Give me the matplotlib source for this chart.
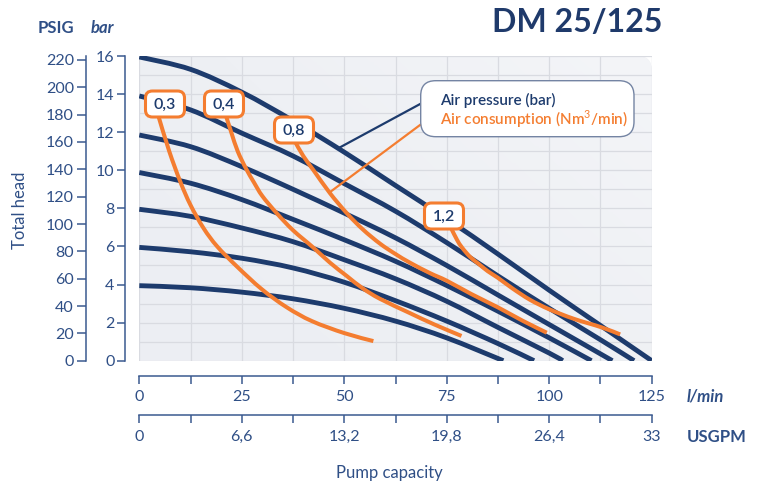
import numpy as np
import matplotlib.pyplot as plt
from matplotlib.patches import PathPatch, FancyBboxPatch
from matplotlib.path import Path
from matplotlib.colors import LinearSegmentedColormap

plt.rcParams['font.family'] = ['Lato', 'DejaVu Sans']
plt.rcParams['mathtext.fontset'] = 'custom'
plt.rcParams['mathtext.rm'] = 'Lato'

NAVY = '#1d3b6d'
ORANGE = '#f47d30'
TXT = '#2f4f86'
AXC = '#3b5a8f'

# axis ticks
flow_ticks = [0, 25, 50, 75, 100, 125]
flow_minor = [12.5, 37.5, 62.5, 87.5, 112.5]
usgpm_ticks = [0, 6.6, 13.2, 19.8, 26.4, 33]
usgpm_minor = [3.3, 9.9, 16.5, 23.1, 29.7]
usgpm_labels = ['0', '6,6', '13,2', '19,8', '26,4', '33']
bar_ticks = [0, 2, 4, 6, 8, 10, 12, 14, 16]
psig_ticks = [0, 20, 40, 60, 80, 100, 120, 140, 160, 180, 200, 220]

# air pressure curves: flow (l/min) -> total head (bar)
p4_x = [0, 12.5, 25, 37.5, 50, 62.5, 75, 88.8]
p4_y = [3.94, 3.83, 3.6, 3.25, 2.75, 2.08, 1.2, 0]
p6_x = [0, 12.5, 25, 37.5, 50, 62.5, 75, 87.5, 96.3]
p6_y = [5.95, 5.72, 5.38, 4.87, 4.12, 3.15, 2.08, 0.9, 0]
p8_x = [0, 12.5, 25, 37.5, 50, 62.5, 75, 87.5, 100, 103.3]
p8_y = [7.95, 7.58, 6.97, 6.25, 5.3, 4.3, 3.12, 1.75, 0.4, 0]
p10_x = [0, 12.5, 25, 37.5, 50, 62.5, 75, 87.5, 100, 110.3]
p10_y = [9.88, 9.32, 8.46, 7.42, 6.35, 5.22, 3.95, 2.6, 1.2, 0]
p12_x = [0, 12.5, 25, 37.5, 50, 62.5, 75, 87.5, 100, 115.4]
p12_y = [11.85, 11.24, 10.19, 9.0, 7.75, 6.45, 5.0, 3.45, 1.9, 0]
p14_x = [0, 12.5, 25, 37.5, 50, 62.5, 75, 87.5, 100, 112.5, 120.7]
p14_y = [13.9, 13.17, 11.95, 10.75, 9.3, 7.85, 6.2, 4.45, 2.75, 1.1, 0]
p16_x = [0, 12.5, 25, 37.5, 50, 62.5, 75, 87.5, 100, 112.5, 125]
p16_y = [15.95, 15.3, 14.1, 12.6, 10.95, 9.2, 7.45, 5.6, 3.7, 1.85, 0]

# air consumption curves (Nm3/min)
c03_x = [4.7, 7.3, 10, 12.5, 15.7, 19, 23.8, 29.9, 36, 42.1, 50, 57.1]
c03_y = [12.82, 11.0, 9.4, 8.17, 6.95, 6.0, 4.95, 3.75, 2.8, 2.08, 1.45, 1.03]
c04_x = [21.2, 22.5, 24, 26, 28, 30, 33.5, 37.5, 42.4, 46.5, 50.6, 54.5, 58.7, 66, 72, 78.6]
c04_y = [12.82, 11.95, 11.0, 10.1, 9.35, 8.65, 7.75, 6.85, 5.95, 5.15, 4.45, 3.8, 3.25, 2.5, 1.9, 1.3]
c08_x = [38, 40, 42.5, 46.5, 50.6, 54.5, 58.7, 62.5, 66, 70.9, 75, 81, 87.5, 93.5, 99.4]
c08_y = [11.5, 10.75, 10.0, 8.8, 7.75, 6.9, 6.15, 5.6, 5.15, 4.6, 4.2, 3.5, 2.8, 2.1, 1.47]
c12_x = [76.2, 77.5, 78.7, 80.7, 82.7, 85, 87.5, 91, 95.3, 100, 106, 112.8, 117.3]
c12_y = [6.9, 6.35, 5.95, 5.45, 5.1, 4.7, 4.35, 3.8, 3.2, 2.7, 2.2, 1.75, 1.38]
cons_labels = ['0,3', '0,4', '0,8', '1,2']


def smooth_path(xs, ys):
    # bezier path through the read points (catmull-rom tangents)
    p = np.column_stack([xs, ys]).astype(float)
    n = len(p)
    verts = [p[0]]
    codes = [Path.MOVETO]
    for i in range(n - 1):
        a = p[i - 1] if i > 0 else p[i]
        d = p[i + 2] if i + 2 < n else p[i + 1]
        verts += [p[i] + (p[i + 1] - a) / 6, p[i + 1] - (d - p[i]) / 6, p[i + 1]]
        codes += [Path.CURVE4] * 3
    return Path(verts, codes)


W_PX, H_PX = 758, 488
fig = plt.figure(figsize=(W_PX / 100, H_PX / 100), dpi=100)

x0, x1, ytop, ybot = 139.3, 651.7, 56, 360.7
pos = [x0 / W_PX, 1 - ybot / H_PX, (x1 - x0) / W_PX, (ybot - ytop) / H_PX]

# PSIG axis (secondary left)
axp = fig.add_axes(pos, zorder=1)
axp.set_facecolor('none')
axp.set_ylim(0, 222.9)
axp.set_xticks([])
for s in ['top', 'right', 'bottom']:
    axp.spines[s].set_visible(False)
axp.spines['left'].set_position(('outward', 38.4))
axp.spines['left'].set_color(AXC)
axp.spines['left'].set_linewidth(1.1)
axp.set_yticks(psig_ticks)
axp.set_yticklabels([str(v) for v in psig_ticks])
axp.tick_params(axis='y', direction='out', length=6.2, width=1.1, color=AXC,
                labelcolor=TXT, labelsize=11.5, pad=2.4)

# USGPM axis (secondary bottom)
axu = fig.add_axes(pos, zorder=1)
axu.set_facecolor('none')
axu.set_xlim(0, 33)
axu.set_yticks([])
for s in ['top', 'right', 'left']:
    axu.spines[s].set_visible(False)
axu.spines['bottom'].set_position(('outward', 39.1))
axu.spines['bottom'].set_color(AXC)
axu.spines['bottom'].set_linewidth(1.1)
axu.set_xticks(usgpm_ticks)
axu.set_xticklabels(usgpm_labels)
axu.set_xticks(usgpm_minor, minor=True)
axu.tick_params(axis='x', which='both', direction='out', length=5.6, width=1.1,
                color=AXC, labelcolor=TXT, labelsize=11.5, pad=5.0)

# main axes
ax = fig.add_axes(pos, zorder=3)
ax.set_facecolor('none')
ax.set_xlim(0, 125)
ax.set_ylim(0, 16)
for s in ['top', 'right']:
    ax.spines[s].set_visible(False)
ax.spines['left'].set_position(('outward', 10.3))
ax.spines['bottom'].set_position(('outward', 11.0))
for s in ['left', 'bottom']:
    ax.spines[s].set_color(AXC)
    ax.spines[s].set_linewidth(1.1)
ax.set_xticks(flow_ticks)
ax.set_xticklabels([str(v) for v in flow_ticks])
ax.set_xticks(flow_minor, minor=True)
ax.set_yticks(bar_ticks)
ax.set_yticklabels([str(v) for v in bar_ticks])
ax.set_yticks([1, 3, 5, 7, 9, 11, 13, 15], minor=True)
ax.tick_params(axis='x', which='both', direction='out', length=5.6, width=1.1,
               color=AXC, labelcolor=TXT, labelsize=11.5, pad=4.8)
ax.tick_params(axis='y', which='major', direction='out', length=5.8, width=1.1,
               color=AXC, labelcolor=TXT, labelsize=11.5, pad=1.7)
ax.tick_params(axis='y', which='minor', length=0)

# plot background with rounded top-right corner and soft gradient
rx, ry = 14 / (x1 - x0), 14 / (ybot - ytop)
verts = [(0, 0), (1, 0), (1, 1 - ry), (1, 1), (1 - rx, 1), (0, 1), (0, 0)]
codes = [Path.MOVETO, Path.LINETO, Path.LINETO, Path.CURVE3, Path.CURVE3,
         Path.LINETO, Path.CLOSEPOLY]
bg = PathPatch(Path(verts, codes), transform=ax.transAxes, facecolor='#eef0f4',
               edgecolor='none', zorder=0)
ax.add_patch(bg)
gx, gy = np.meshgrid(np.linspace(0, 1, 200), np.linspace(0, 1, 120))
shade = np.clip(0.6 * gx + 0.4 * gy, 0, 1)
cmap = LinearSegmentedColormap.from_list('bgc', ['#eceef3', '#eef0f4', '#f4f5f8'])
im = ax.imshow(shade, cmap=cmap, extent=(0, 125, 0, 16), origin='lower',
               aspect='auto', zorder=0.1, interpolation='bilinear')
im.set_clip_path(bg)
ax.set_xlim(0, 125)
ax.set_ylim(0, 16)
ax.grid(True, which='both', color='#d9dbe1', linewidth=0.9)
ax.set_axisbelow(True)

for xs, ys in [(p4_x, p4_y), (p6_x, p6_y), (p8_x, p8_y), (p10_x, p10_y),
               (p12_x, p12_y), (p14_x, p14_y), (p16_x, p16_y)]:
    ax.add_patch(PathPatch(smooth_path(xs, ys), fill=False, edgecolor=NAVY,
                           lw=3.5, capstyle='butt', joinstyle='round', zorder=2))

for xs, ys in [(c03_x, c03_y), (c04_x, c04_y), (c08_x, c08_y), (c12_x, c12_y)]:
    ax.add_patch(PathPatch(smooth_path(xs, ys), fill=False, edgecolor=ORANGE,
                           lw=2.9, capstyle='butt', joinstyle='round', zorder=3))

# leader lines to legend
ax.plot([48.5, 70.75], [11.15, 13.74], color=NAVY, lw=1.6, zorder=4)
ax.plot([46.5, 70.5], [8.85, 12.7], color=ORANGE, lw=1.6, zorder=4)

# overlay in pixel coordinates for labels and texts
ov = fig.add_axes([0, 0, 1, 1], zorder=5)
ov.set_xlim(0, W_PX)
ov.set_ylim(H_PX, 0)
ov.axis('off')
ov.set_facecolor('none')

ov.add_patch(FancyBboxPatch((420.7, 80.7), 213.3, 56,
                            boxstyle='round,pad=0,rounding_size=15',
                            fc='white', ec='#7484a3', lw=1.0))
ov.text(440, 100, 'Air pressure (bar)', color=NAVY, fontsize=11,
        fontweight='semibold', va='center', ha='left')
ov.text(440, 119, r'Air consumption (Nm$^3$/min)', color=ORANGE, fontsize=11,
        fontweight='semibold', va='center', ha='left')

for lab, (cx, cy) in zip(cons_labels, [(165, 104), (224, 104), (294, 130), (444, 216)]):
    ov.add_patch(FancyBboxPatch((cx - 19.5, cy - 13), 39, 26,
                                boxstyle='round,pad=0,rounding_size=7',
                                fc='white', ec=ORANGE, lw=2.2))
    ov.text(cx, cy + 0.5, lab, color=NAVY, fontsize=11.5, fontweight='semibold',
            ha='center', va='center')

ov.text(577, 22, 'DM 25/125', color='#1f3a6b', fontsize=23, fontweight='bold',
        ha='center', va='center')
ov.text(55.5, 28, 'PSIG', color=TXT, fontsize=12, fontweight='bold',
        ha='center', va='center')
ov.text(102.5, 28, 'bar', color=TXT, fontsize=12, fontweight='bold', style='italic',
        ha='center', va='center')
ov.text(20, 210, 'Total head', color=TXT, fontsize=12, rotation=90,
        ha='center', va='center')
ov.text(687, 396, 'l/min', color=TXT, fontsize=12, fontweight='bold', style='italic',
        ha='left', va='center')
ov.text(687, 437, 'USGPM', color=TXT, fontsize=12, fontweight='bold',
        ha='left', va='center')
ov.text(389, 473, 'Pump capacity', color=TXT, fontsize=12,
        ha='center', va='center')

fig.savefig('out.png', dpi=100)
